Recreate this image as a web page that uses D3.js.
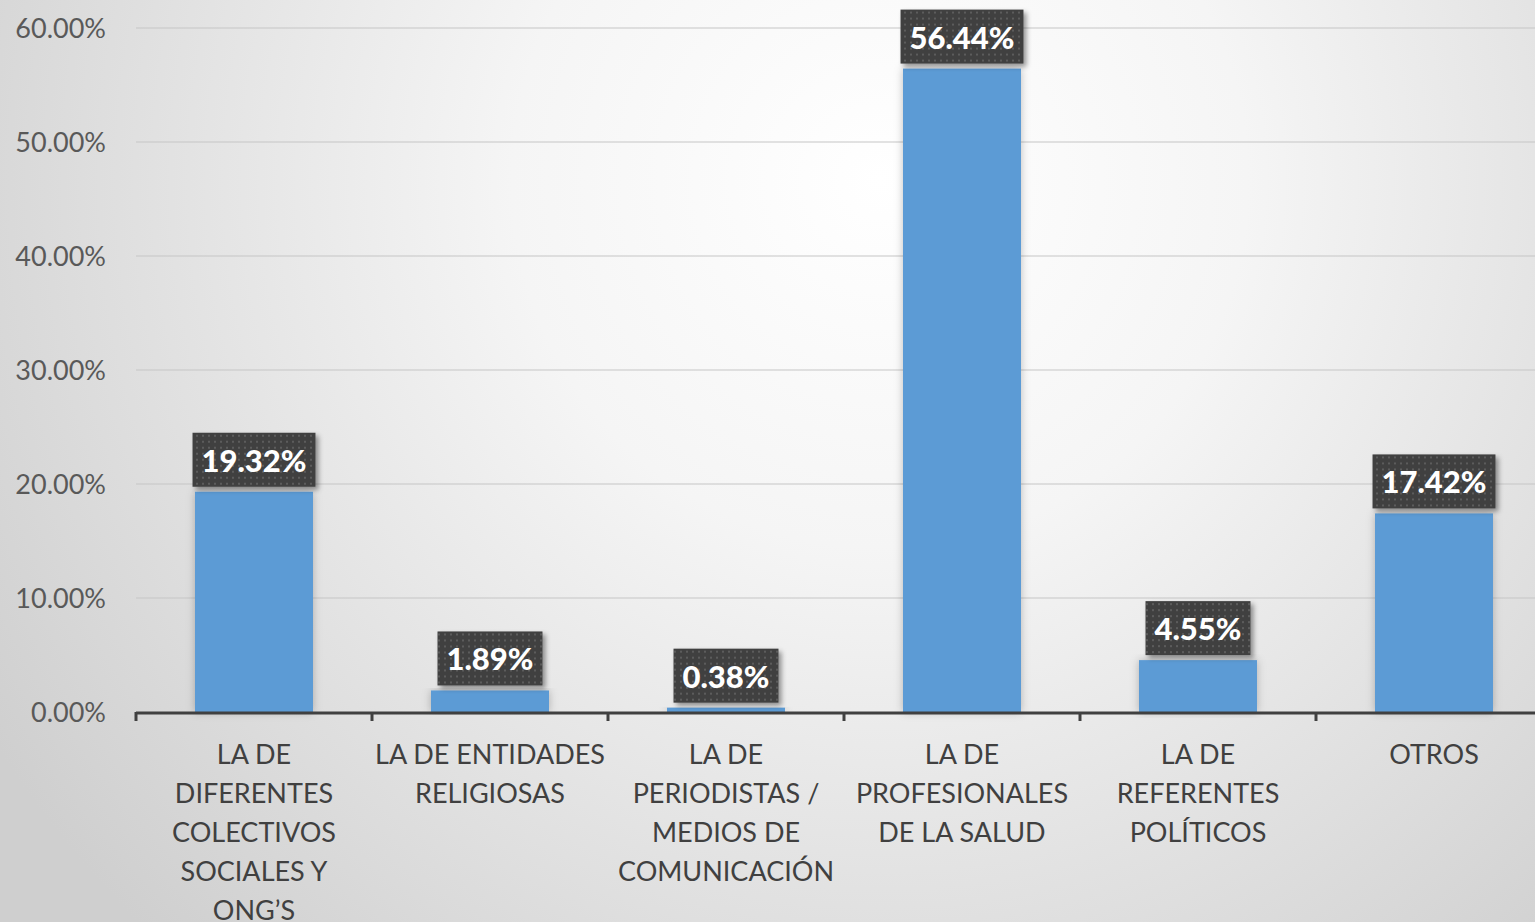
<!DOCTYPE html>
<meta charset="utf-8">
<style>
body { margin: 0; overflow: hidden; }
svg { display: block; }
</style>
<script src="https://d3js.org/d3.v7.min.js"></script>
<body>
<svg id="chart" width="1535" height="922"></svg>
<script>

// data
var categories = ["colectivos", "religiosas", "periodistas", "salud", "politicos", "otros"];
var catLines = [
  ["LA DE", "DIFERENTES", "COLECTIVOS", "SOCIALES Y", "ONG\u2019S"],
  ["LA DE ENTIDADES", "RELIGIOSAS"],
  ["LA DE", "PERIODISTAS /", "MEDIOS DE", "COMUNICACI\u00d3N"],
  ["LA DE", "PROFESIONALES", "DE LA SALUD"],
  ["LA DE", "REFERENTES", "POL\u00cdTICOS"],
  ["OTROS"]
];
var values = [19.32, 1.89, 0.38, 56.44, 4.55, 17.42];
var yTicks = [0, 10, 20, 30, 40, 50, 60];

var width = 1535, height = 922;
var svg = d3.select("#chart");
var defs = svg.append("defs");

// background gradient
var bg = defs.append("radialGradient").attr("id", "bg")
    .attr("gradientUnits", "userSpaceOnUse")
    .attr("cx", 880).attr("cy", 180).attr("r", 1050);
bg.append("stop").attr("offset", "0%").attr("stop-color", "#ffffff");
bg.append("stop").attr("offset", "35%").attr("stop-color", "#f5f5f5");
bg.append("stop").attr("offset", "100%").attr("stop-color", "#cfcfcf");

// dotted fill for data labels
var pat = defs.append("pattern").attr("id", "dots")
    .attr("patternUnits", "userSpaceOnUse").attr("width", 6).attr("height", 6);
pat.append("rect").attr("width", 6).attr("height", 6).attr("fill", "#404040");
pat.append("rect").attr("x", 2).attr("y", 2).attr("width", 2).attr("height", 2).attr("fill", "#5c5c5c");

var sh = defs.append("filter").attr("id", "shadow")
    .attr("x", "-20%").attr("y", "-20%").attr("width", "150%").attr("height", "150%");
sh.append("feDropShadow").attr("dx", 3).attr("dy", 3).attr("stdDeviation", 2.5)
  .attr("flood-color", "#000").attr("flood-opacity", 0.4);

var barSh = defs.append("filter").attr("id", "barshadow")
    .attr("x", "-30%").attr("y", "-10%").attr("width", "160%").attr("height", "120%");
barSh.append("feDropShadow").attr("dx", 0).attr("dy", 0).attr("stdDeviation", 4)
  .attr("flood-color", "#000").attr("flood-opacity", 0.25);

svg.append("rect").attr("width", width).attr("height", height).attr("fill", "url(#bg)");

var x = d3.scaleBand().domain(categories).range([136, 1552])
    .paddingInner(0.5).paddingOuter(0.25);
var y = d3.scaleLinear().domain([0, 60]).range([712, 28]);

// gridlines
svg.append("g").selectAll("line").data(yTicks.slice(1)).enter().append("line")
    .attr("x1", 136).attr("x2", width)
    .attr("y1", d => y(d)).attr("y2", d => y(d))
    .attr("stroke", "#c6c6c6").attr("stroke-width", 1.2);

// y labels
svg.append("g").selectAll("text").data(yTicks).enter().append("text")
    .attr("x", 106).attr("y", d => y(d) + 10)
    .attr("text-anchor", "end")
    .attr("font-family", "Lato, 'Open Sans', sans-serif")
    .attr("font-size", 27).attr("fill", "#595959")
    .text(d => d.toFixed(2) + "%");

// bars
svg.append("g").selectAll("rect").data(values).enter().append("rect")
    .attr("x", (d, i) => x(categories[i]))
    .attr("width", x.bandwidth())
    .attr("y", d => y(d))
    .attr("height", d => y(0) - y(d))
    .attr("fill", "#5b9bd5")
    .attr("filter", "url(#barshadow)");

// x axis
var xAxis = svg.append("g");
xAxis.append("line").attr("x1", 136).attr("x2", width)
    .attr("y1", y(0) + 1).attr("y2", y(0) + 1)
    .attr("stroke", "#404040").attr("stroke-width", 3);
var step = x.step();
xAxis.selectAll(".tk").data(d3.range(7)).enter().append("line")
    .attr("x1", i => 136 + i * step).attr("x2", i => 136 + i * step)
    .attr("y1", y(0)).attr("y2", y(0) + 9)
    .attr("stroke", "#404040").attr("stroke-width", 3);

var lab = xAxis.selectAll(".lab").data(catLines).enter().append("text")
    .attr("text-anchor", "middle")
    .attr("font-family", "Lato, 'Open Sans', sans-serif")
    .attr("font-size", 27).attr("fill", "#404040");
lab.each(function(lines, i) {
  var t = d3.select(this);
  var cx = x(categories[i]) + x.bandwidth() / 2;
  lines.forEach(function(l, j) {
    t.append("tspan").attr("x", cx).attr("y", 764 + j * 39).text(l);
  });
});

// data labels
var dl = svg.append("g").selectAll("g").data(values).enter().append("g")
    .attr("transform", (d, i) => "translate(" + (x(categories[i]) + x.bandwidth() / 2) + "," + (y(d) - 5) + ")");
dl.append("rect")
    .attr("x", -62).attr("y", -54).attr("width", 124).attr("height", 54)
    .attr("fill", "url(#dots)").attr("filter", "url(#shadow)");
dl.append("text")
    .attr("x", 0).attr("y", -15)
    .attr("text-anchor", "middle")
    .attr("font-family", "Lato, 'Open Sans', sans-serif")
    .attr("font-weight", "900")
    .attr("font-size", 31).attr("fill", "#ffffff")
    .text(d => d.toFixed(2) + "%");

// resize label boxes to text
dl.each(function() {
  var g = d3.select(this);
  var w = g.select("text").node().getComputedTextLength();
  g.select("rect").attr("x", -w / 2 - 9).attr("width", w + 18);
});

</script>
</body>
